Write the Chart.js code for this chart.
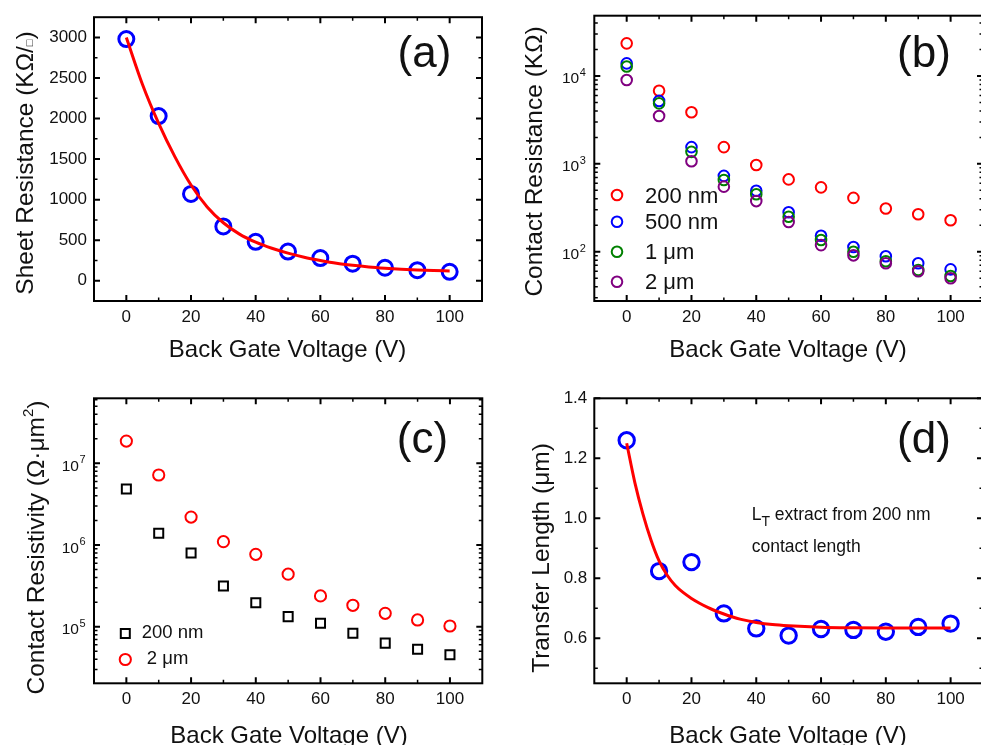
<!DOCTYPE html>
<html>
<head>
<meta charset="utf-8">
<title>Back gate dependence</title>
<script src="https://cdn.jsdelivr.net/npm/chart.js@4.4.0/dist/chart.umd.min.js"></script>
<style>
  html, body { margin: 0; padding: 0; background: #fff; overflow: hidden; }
  body { width: 981px; height: 745px; position: relative; }
  canvas { position: absolute; }
</style>
</head>
<body>
<canvas id="pa" width="490" height="372" style="left:0;top:0"></canvas>
<canvas id="pb" width="500" height="372" style="left:490px;top:0"></canvas>
<canvas id="pc" width="490" height="373" style="left:0;top:372px"></canvas>
<canvas id="pd" width="500" height="373" style="left:490px;top:372px"></canvas>
<script>
// ---- data ----
var voltage   = [0, 10, 20, 30, 40, 50, 60, 70, 80, 90, 100];
var xMajor    = [0, 20, 40, 60, 80, 100];
var xMinor    = [10, 30, 50, 70, 90];

// (a) sheet resistance, KOhm/sq
var sheetRes  = [2980, 2030, 1070, 670, 480, 360, 280, 210, 160, 130, 110];
var sheetFitV = [0, 5, 10, 15, 20, 25, 30, 35, 40, 45, 50, 55, 60, 65, 70, 75, 80, 85, 90, 95, 100];
var sheetFit  = [3000, 2420, 1940, 1530, 1180, 910, 715, 575, 475, 400, 340, 290, 250, 215, 190, 170, 155, 143, 133, 126, 121];
var aTicks    = [0, 500, 1000, 1500, 2000, 2500, 3000];
var aMinor    = [250, 750, 1250, 1750, 2250, 2750];

// (b) contact resistance, KOhm
var rc200nm   = [23500, 6800, 3860, 1550, 970, 665, 540, 410, 310, 267, 228];
var rc500nm   = [13900, 5200, 1550, 730, 495, 281, 152, 113, 89, 74, 63];
var rc1um     = [12800, 4880, 1370, 655, 450, 250, 136, 100, 78, 62, 53];
var rc2um     = [9000, 3500, 1070, 550, 377, 218, 119, 91, 74, 60, 50];
var bDecades  = [2, 3, 4];
var bLegend   = ['200 nm', '500 nm', '1 \u03bcm', '2 \u03bcm'];

// (c) contact resistivity, Ohm.um^2
var rho200nm  = [4.85e6, 1.39e6, 8.0e5, 3.15e5, 1.97e5, 1.33e5, 1.10e5, 8.3e4, 6.3e4, 5.3e4, 4.55e4];
var rho2um    = [1.87e7, 7.2e6, 2.2e6, 1.1e6, 7.7e5, 4.4e5, 2.38e5, 1.83e5, 1.46e5, 1.21e5, 1.02e5];
var cDecades  = [5, 6, 7];
var cLegend   = ['200 nm', ' 2 \u03bcm'];

// (d) transfer length, um
var transLen  = [1.26, 0.824, 0.854, 0.683, 0.633, 0.609, 0.631, 0.628, 0.622, 0.638, 0.649];
var ltFitV    = [0, 2.5, 5, 7.5, 10, 12.5, 15, 17.5, 20, 22.5, 25, 27.5, 30, 32.5, 35, 37.5, 40, 45, 50, 60, 70, 80, 90, 100];
var ltFit     = [1.25, 1.12, 1.015, 0.928, 0.858, 0.81, 0.776, 0.752, 0.733, 0.717, 0.703, 0.691, 0.681, 0.672, 0.664, 0.658, 0.653, 0.646, 0.642, 0.637, 0.635, 0.634, 0.634, 0.634];
var dTicks    = [0.6, 0.8, 1.0, 1.2, 1.4];
var dMinor    = [0.5, 0.7, 0.9, 1.1, 1.3];

var FONT = '"Liberation Sans", Arial, sans-serif';
var BLUE = '#0000ff', RED = '#ff0000', GREEN = '#008000', PURPLE = '#800080';
var NONE = 'rgba(0,0,0,0)';

function pts(xs, ys) {
    return xs.map(function (x, i) { return { x: x, y: ys[i] }; });
}

function logMinors(lo, hi) {
    var out = [];
    for (var e = Math.floor(Math.log10(lo)); e <= Math.ceil(Math.log10(hi)); e++) {
        for (var m = 2; m <= 9; m++) {
            var v = m * Math.pow(10, e);
            if (v > lo && v < hi) { out.push(v); }
        }
    }
    return out;
}

// text made of pieces with their own size / vertical shift
function drawParts(ctx, parts, x, y, rotate, align) {
    ctx.save();
    ctx.translate(x, y);
    if (rotate) { ctx.rotate(-Math.PI / 2); }
    ctx.textBaseline = 'alphabetic';
    ctx.textAlign = 'left';
    var total = 0;
    parts.forEach(function (p) {
        ctx.font = p.s + 'px ' + FONT;
        p.w = ctx.measureText(p.t).width;
        total += p.w;
    });
    var cx = align === 'center' ? -total / 2 : 0;
    parts.forEach(function (p) {
        ctx.font = p.s + 'px ' + FONT;
        ctx.fillText(p.t, cx, p.dy || 0);
        cx += p.w;
    });
    ctx.restore();
}

var framePlugin = {
    id: 'frame',
    beforeDatasetsDraw: function (chart, args, o) {
        var ctx = chart.ctx, a = chart.chartArea;
        var xs = chart.scales.x, ys = chart.scales.y;
        ctx.save();
        ctx.strokeStyle = '#000';
        function xt(v, len, w) {
            var p = xs.getPixelForValue(v);
            ctx.lineWidth = w;
            ctx.beginPath();
            ctx.moveTo(p, a.bottom); ctx.lineTo(p, a.bottom - len);
            ctx.moveTo(p, a.top); ctx.lineTo(p, a.top + len);
            ctx.stroke();
        }
        function yt(v, len, w) {
            var p = ys.getPixelForValue(v);
            ctx.lineWidth = w;
            ctx.beginPath();
            ctx.moveTo(a.left, p); ctx.lineTo(a.left + len, p);
            ctx.moveTo(a.right, p); ctx.lineTo(a.right - len, p);
            ctx.stroke();
        }
        xMajor.forEach(function (v) { xt(v, 6, 2); });
        xMinor.forEach(function (v) { xt(v, 3.5, 1.5); });
        o.yMajor.forEach(function (v) { yt(v, 6, 2); });
        o.yMinor.forEach(function (v) { yt(v, 3.5, 1.5); });
        ctx.lineWidth = 2;
        ctx.strokeRect(a.left, a.top, a.right - a.left, a.bottom - a.top);
        ctx.restore();
    },
    afterDraw: function (chart, args, o) {
        var ctx = chart.ctx, a = chart.chartArea, ys = chart.scales.y;
        var ox = o.ox, oy = o.oy;
        ctx.save();
        ctx.fillStyle = '#111';
        ctx.strokeStyle = '#000';

        // log axis labels: 10 with raised exponent
        if (o.decades) {
            o.decades.forEach(function (e) {
                var p = ys.getPixelForValue(Math.pow(10, e));
                var r = a.left - 8.5;
                ctx.textAlign = 'right';
                ctx.textBaseline = 'alphabetic';
                ctx.font = '11px ' + FONT;
                ctx.fillText(String(e), r, p);
                var w = ctx.measureText(String(e)).width;
                ctx.font = '15.5px ' + FONT;
                ctx.fillText('10', r - w - 0.5, p + 7.5);
            });
        }

        drawParts(ctx, o.yTitle.parts, o.yTitle.x - ox, o.yTitle.y - oy, true, 'center');
        drawParts(ctx, [{ t: 'Back Gate Voltage (V)', s: 24 }], o.xTitle.x - ox, o.xTitle.y - oy, false, 'center');
        drawParts(ctx, [{ t: o.tag.t, s: 44 }], o.tag.x - ox, o.tag.y - oy, false, 'center');

        // legend inside plot
        if (o.legend) {
            var L = o.legend;
            L.items.forEach(function (it, i) {
                var mx = L.x - ox, my = L.ys[i] - oy;
                ctx.lineWidth = 2;
                ctx.strokeStyle = it.c;
                ctx.beginPath();
                if (it.square) {
                    ctx.rect(mx - 4.5, my - 4.5, 9, 9);
                } else {
                    ctx.arc(mx, my, L.r, 0, Math.PI * 2);
                }
                ctx.stroke();
                ctx.fillStyle = '#111';
                drawParts(ctx, [{ t: it.t, s: L.s }], L.tx - ox, my + L.dy, false, 'left');
            });
        }

        if (o.notes) {
            o.notes.forEach(function (n) {
                drawParts(ctx, n.parts, n.x - ox, n.y - oy, false, 'left');
            });
        }
        ctx.restore();
    }
};

function makePanel(id, cfg) {
    return new Chart(document.getElementById(id), {
        type: 'scatter',
        data: { datasets: cfg.datasets },
        options: {
            responsive: false,
            animation: false,
            devicePixelRatio: 1,
            events: [],
            layout: { autoPadding: false, padding: { left: 0, top: cfg.pad.top, right: cfg.pad.right, bottom: 0 } },
            plugins: { legend: { display: false }, tooltip: { enabled: false }, frame: cfg.frame },
            scales: {
                x: {
                    type: 'linear', min: -10, max: 110,
                    grid: { display: false, drawTicks: false }, border: { display: false },
                    afterBuildTicks: function (s) { s.ticks = xMajor.map(function (v) { return { value: v }; }); },
                    afterFit: function (s) { s.height = cfg.pad.xh; },
                    ticks: { font: { family: FONT, size: 17 }, color: '#111', padding: 6, maxRotation: 0, autoSkip: false }
                },
                y: cfg.y
            }
        },
        plugins: [framePlugin]
    });
}

function circles(data, color, r, bw, order) {
    return { data: data, pointRadius: r, pointBorderWidth: bw, pointBorderColor: color,
             pointBackgroundColor: NONE, borderColor: color, backgroundColor: NONE,
             showLine: false, order: order };
}
function fitLine(data) {
    return { data: data, showLine: true, borderColor: RED, borderWidth: 3, pointRadius: 0,
             cubicInterpolationMode: 'monotone', fill: false, order: 0 };
}

function linearY(min, max, ticks, width, fmt) {
    return {
        type: 'linear', min: min, max: max,
        grid: { display: false, drawTicks: false }, border: { display: false },
        afterBuildTicks: function (s) { s.ticks = ticks.map(function (v) { return { value: v }; }); },
        afterFit: function (s) { s.width = width; },
        ticks: { font: { family: FONT, size: 17 }, color: '#111', padding: 7, autoSkip: false, callback: fmt }
    };
}
function logY(min, max, width) {
    return {
        type: 'logarithmic', min: min, max: max,
        grid: { display: false, drawTicks: false }, border: { display: false },
        afterFit: function (s) { s.width = width; },
        ticks: { display: false }
    };
}

// (a)
makePanel('pa', {
    pad: { top: 14, right: 8, xh: 71 },
    y: linearY(-250, 3250, aTicks, 94, function (v) { return String(v); }),
    datasets: [
        fitLine(pts(sheetFitV, sheetFit)),
        circles(pts(voltage, sheetRes), BLUE, 7.5, 3, 1)
    ],
    frame: {
        ox: 0, oy: 0, yMajor: aTicks, yMinor: aMinor,
        yTitle: { x: 33, y: 163, parts: [{ t: 'Sheet Resistance (K\u03a9/', s: 24.5 }, { t: '\u25a1', s: 11 }, { t: ')', s: 24.5 }] },
        xTitle: { x: 287.5, y: 357 },
        tag: { t: '(a)', x: 424.5, y: 66.8 }
    }
});

// (b)
makePanel('pb', {
    pad: { top: 15.7, right: 7, xh: 71 },
    y: logY(27.5, 48500, 104.3),
    datasets: [
        circles(pts(voltage, rc200nm), RED, 5.3, 2, 4),
        circles(pts(voltage, rc500nm), BLUE, 5.3, 2, 3),
        circles(pts(voltage, rc1um), GREEN, 5.3, 2, 2),
        circles(pts(voltage, rc2um), PURPLE, 5.3, 2, 1)
    ],
    frame: {
        ox: 490, oy: 0, yMajor: bDecades.map(function (e) { return Math.pow(10, e); }), yMinor: logMinors(27.5, 48500),
        decades: bDecades,
        yTitle: { x: 541.5, y: 161.5, parts: [{ t: 'Contact Resistance (K\u03a9)', s: 24.5 }] },
        xTitle: { x: 788, y: 357 },
        tag: { t: '(b)', x: 924, y: 66.8 },
        legend: {
            x: 617, tx: 645, r: 5.3, s: 22, dy: 7.5, ys: [195, 221.7, 251.7, 281.7],
            items: [
                { t: bLegend[0], c: RED }, { t: bLegend[1], c: BLUE },
                { t: bLegend[2], c: GREEN }, { t: bLegend[3], c: PURPLE }
            ]
        }
    }
});

// (c)
makePanel('pc', {
    pad: { top: 26.3, right: 7.7, xh: 61.7 },
    y: logY(2.03e4, 6.25e7, 94),
    datasets: [
        circles(pts(voltage, rho2um), RED, 5.6, 2, 2),
        Object.assign(circles(pts(voltage, rho200nm), '#000', 6.4, 2, 1), { pointStyle: 'rect' })
    ],
    frame: {
        ox: 0, oy: 372, yMajor: cDecades.map(function (e) { return Math.pow(10, e); }), yMinor: logMinors(2.03e4, 6.25e7),
        decades: cDecades,
        yTitle: { x: 43.5, y: 547.5, parts: [{ t: 'Contact Resistivity (\u03a9\u00b7\u03bcm', s: 24.5 }, { t: '2', s: 15, dy: -11 }, { t: ')', s: 24.5 }] },
        xTitle: { x: 289, y: 742.5 },
        tag: { t: '(c)', x: 422.5, y: 452.5 },
        legend: {
            x: 125.3, tx: 141.7, r: 5.6, s: 18.5, dy: 4, ys: [633.6, 659.5],
            items: [{ t: cLegend[0], c: '#000', square: true }, { t: cLegend[1], c: RED }]
        }
    }
});

// (d)
makePanel('pd', {
    pad: { top: 26.3, right: 7, xh: 61.7 },
    y: linearY(0.45, 1.4, dTicks, 104.3, function (v) { return v.toFixed(1); }),
    datasets: [
        fitLine(pts(ltFitV, ltFit)),
        circles(pts(voltage, transLen), BLUE, 7.7, 3, 1)
    ],
    frame: {
        ox: 490, oy: 372, yMajor: dTicks, yMinor: dMinor,
        yTitle: { x: 549, y: 558, parts: [{ t: 'Transfer Length (\u03bcm)', s: 24.5 }] },
        xTitle: { x: 788, y: 742.5 },
        tag: { t: '(d)', x: 924, y: 452.5 },
        notes: [
            { x: 751.7, y: 520, parts: [{ t: 'L', s: 17.5 }, { t: 'T', s: 14, dy: 6 }, { t: ' extract from 200 nm', s: 17.5 }] },
            { x: 751.7, y: 551.7, parts: [{ t: 'contact length', s: 17.5 }] }
        ]
    }
});
</script>
</body>
</html>
